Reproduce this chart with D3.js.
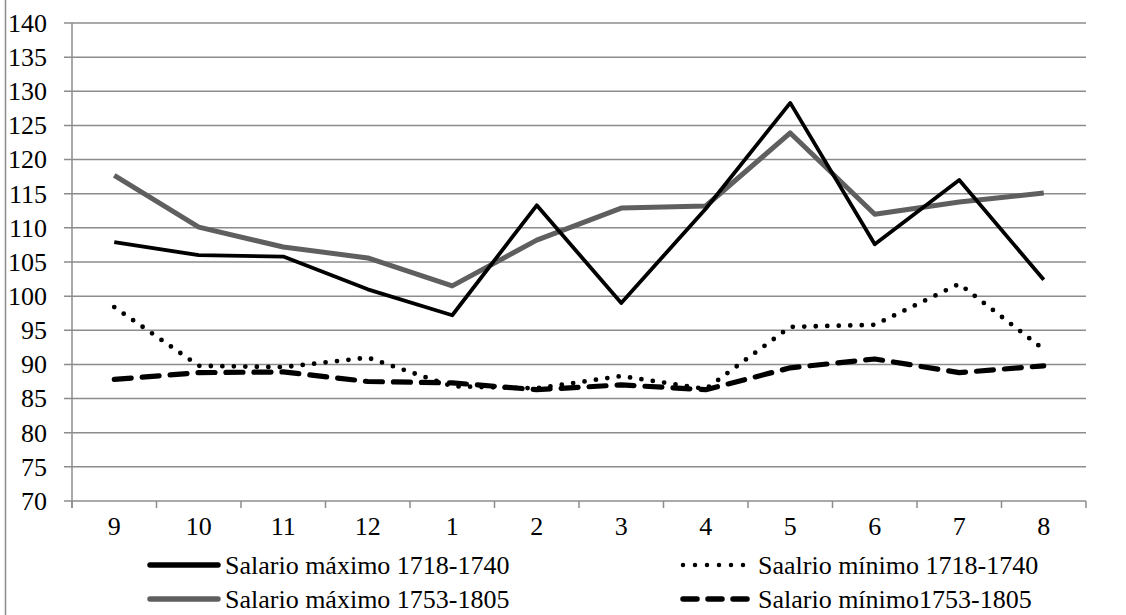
<!DOCTYPE html>
<html><head><meta charset="utf-8">
<script src="https://cdn.jsdelivr.net/npm/d3@7"></script>
<style>body{margin:0;background:#fff}svg{display:block}
svg text{font-family:"Liberation Serif","Times New Roman",serif;fill:#000}</style>
</head><body><svg id="c" width="1126" height="615"></svg>
<script>
const categories = ["9","10","11","12","1","2","3","4","5","6","7","8"];
const maxEarly = [107.9,106.0,105.8,101.0,97.2,113.3,99.0,112.8,128.3,107.6,117.0,102.4];
const maxLate  = [117.7,110.1,107.2,105.6,101.5,108.2,112.9,113.2,123.9,112.0,113.8,115.1];
const minEarly = [98.4,89.8,89.6,91.0,86.8,86.5,88.3,86.4,95.5,95.8,101.8,92.2];
const minLate  = [87.8,88.8,88.9,87.5,87.3,86.3,87.0,86.3,89.5,90.8,88.8,89.8];
const yTicks = [70,75,80,85,90,95,100,105,110,115,120,125,130,135,140];
const seriesNames = ["Salario máximo 1718-1740","Saalrio mínimo 1718-1740","Salario máximo 1753-1805","Salario mínimo1753-1805"];

const svg = d3.select("#c");
const L=72, R=1086, T=23, B=501;
const x = d3.scaleBand().domain(categories).range([L,R]);
const y = d3.scaleLinear().domain([70,140]).range([B,T]);
const grid="#8c8c8c";
const FONT='"Liberation Serif","Times New Roman",serif';
const FS=26;

svg.append("line").attr("x1",5.5).attr("x2",5.5).attr("y1",0).attr("y2",615).attr("stroke",grid).attr("stroke-width",1.5);

svg.append("g").selectAll("line").data(yTicks).join("line")
  .attr("x1",64).attr("x2",R).attr("y1",d=>y(d)).attr("y2",d=>y(d))
  .attr("stroke",grid).attr("stroke-width",1.5);

const ya = svg.append("g").attr("transform",`translate(${L},0)`)
  .call(d3.axisLeft(y).tickValues(yTicks).tickSize(0).tickPadding(25));
ya.attr("font-family",FONT).attr("font-size",FS);
ya.select(".domain").remove();
ya.selectAll("text").attr("fill","#000");
svg.append("line").attr("x1",L).attr("x2",L).attr("y1",T).attr("y2",B+7).attr("stroke",grid).attr("stroke-width",1.5);

const xa = svg.append("g").attr("transform",`translate(0,${B})`).call(d3.axisBottom(x).tickSize(0).tickPadding(16));
xa.attr("font-family",FONT).attr("font-size",FS);
xa.select(".domain").remove();
xa.selectAll("text").attr("fill","#000");
const bounds = categories.map(c=>x(c)).concat([R]);
svg.append("g").selectAll("line").data(bounds).join("line")
  .attr("x1",d=>d).attr("x2",d=>d).attr("y1",B).attr("y2",B+7).attr("stroke",grid).attr("stroke-width",1.5);

const cx = c=>x(c)+x.bandwidth()/2;
const line = d3.line().x((d,i)=>cx(categories[i])).y(d=>y(d));

const styles = [
  {data:maxEarly, stroke:"#000", w:3.8, dash:null, cap:"butt"},
  {data:minEarly, stroke:"#000", w:4.8, dash:"0,11.5", cap:"round"},
  {data:maxLate, stroke:"#5f5f5f", w:5, dash:null, cap:"butt"},
  {data:minLate, stroke:"#000", w:5.2, dash:"17,11", cap:"round"}
];
[2,0,1,3].forEach(i=>{
  const s=styles[i];
  svg.append("path").attr("d",line(s.data)).attr("fill","none").attr("stroke",s.stroke)
    .attr("stroke-width",s.w).attr("stroke-linejoin","round").attr("stroke-linecap",s.cap)
    .attr("stroke-dasharray",s.dash);
});

const legPos=[[148,565],[681,565],[148,599],[681,599]];
seriesNames.forEach((n,i)=>{
  const s=styles[i], [lx,ly]=legPos[i];
  svg.append("line").attr("x1",lx+2).attr("x2",lx+70).attr("y1",ly).attr("y2",ly)
    .attr("stroke",s.stroke).attr("stroke-width",i===1?4.5:5.5).attr("stroke-linecap","round")
    .attr("stroke-dasharray",i===1?"0,12":(i===3?"14,11":null));
  svg.append("text").attr("x",lx+77).attr("y",ly+9).attr("font-family",FONT).attr("font-size",FS).text(n);
});
</script></body></html>
